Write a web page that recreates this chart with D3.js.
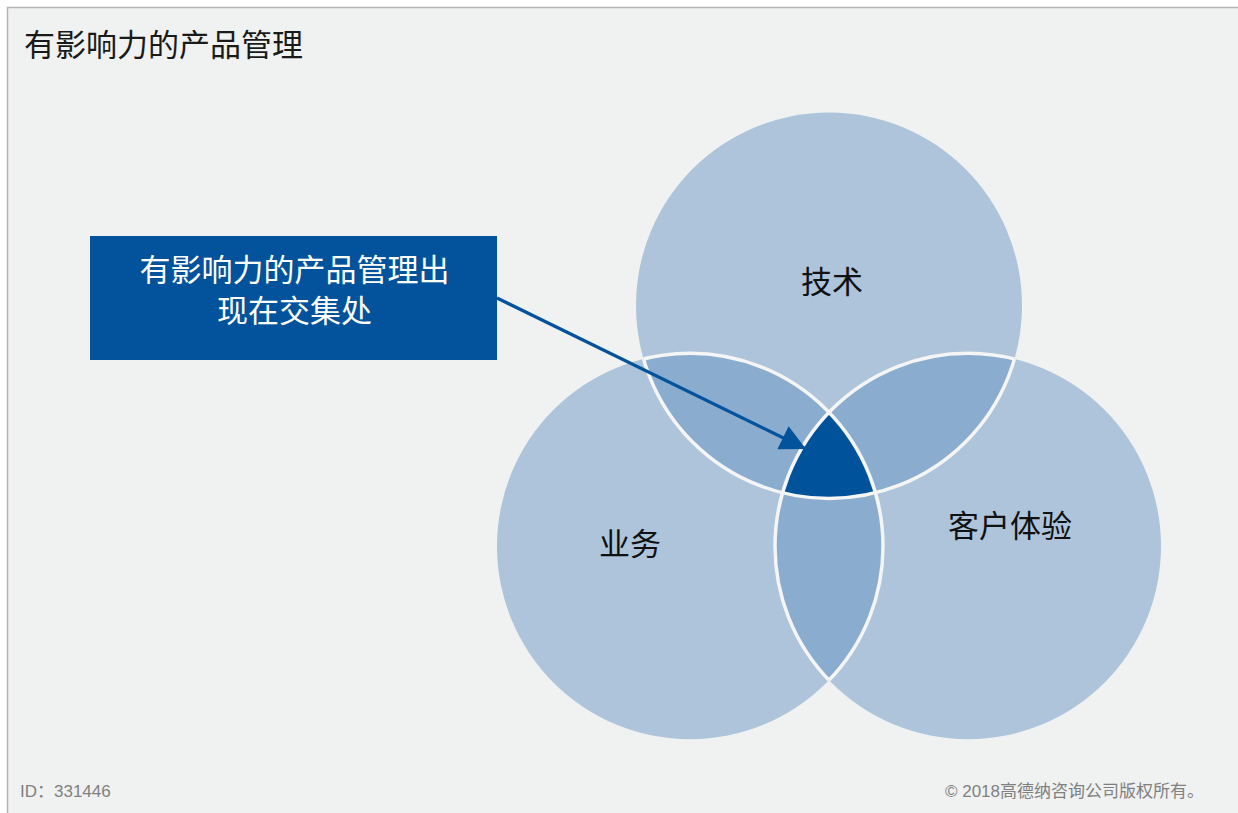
<!DOCTYPE html>
<html>
<head>
<meta charset="utf-8">
<title>有影响力的产品管理</title>
<script src="https://cdn.jsdelivr.net/npm/d3@7/dist/d3.min.js"></script>
<style>
  body { margin: 0; background: #fff; }
  svg text { font-family: "Noto Sans CJK SC", "Noto Sans", sans-serif; }
  svg text.foot { font-family: "Liberation Sans", "Noto Sans CJK SC", sans-serif; }
</style>
</head>
<body>
<div id="chart"></div>
<script>
// data
var title = "有影响力的产品管理";
var sets = ["技术", "业务", "客户体验"];
var calloutLines = ["有影响力的产品管理出", "现在交集处"];
var footId = "ID：331446";
var footCopy = "© 2018高德纳咨询公司版权所有。";

var W = 1238, H = 813;
var svg = d3.select("#chart").append("svg")
  .attr("width", W).attr("height", H);

// frame + background
svg.append("rect").attr("width", W).attr("height", H).attr("fill", "#fff");
svg.append("rect")
  .attr("x", 7.5).attr("y", 7.5).attr("width", W).attr("height", H)
  .attr("fill", "#f0f2f1").attr("stroke", "#b4b4b4").attr("stroke-width", 1.5);

svg.append("text").text(title)
  .attr("x", 24).attr("y", 56)
  .attr("font-size", 31).attr("fill", "#1a1a1a");

// venn layout: equal circles on an equilateral triangle
var r = 193, side = 278;
var cx0 = 829, cy0 = 466;
var dist = side / Math.sqrt(3);
var angles = [-90, 150, 30];
var circles = sets.map(function(s, i) {
  var a = angles[i] * Math.PI / 180;
  return { name: s, x: cx0 + dist * Math.cos(a), y: cy0 + dist * Math.sin(a) };
});

var defs = svg.append("defs");
circles.forEach(function(c, i) {
  defs.append("clipPath").attr("id", "c" + i)
    .append("circle").attr("cx", c.x).attr("cy", c.y).attr("r", r);
  // union of the other two circles
  var u = defs.append("clipPath").attr("id", "o" + i);
  circles.forEach(function(d, j) {
    if (j !== i) u.append("circle").attr("cx", d.x).attr("cy", d.y).attr("r", r);
  });
});

var light = "#adc4db", mid = "#8aacce", dark = "#00529b";

svg.append("g").selectAll("circle").data(circles).enter()
  .append("circle")
  .attr("cx", function(d) { return d.x; })
  .attr("cy", function(d) { return d.y; })
  .attr("r", r).attr("fill", light);

// pairwise lenses
var pairs = [[0, 1], [0, 2], [1, 2]];
pairs.forEach(function(p) {
  var c = circles[p[1]];
  svg.append("circle")
    .attr("clip-path", "url(#c" + p[0] + ")")
    .attr("cx", c.x).attr("cy", c.y).attr("r", r)
    .attr("fill", mid);
});

// triple intersection
var c2 = circles[2];
svg.append("g").attr("clip-path", "url(#c0)")
  .append("g").attr("clip-path", "url(#c1)")
  .append("circle").attr("cx", c2.x).attr("cy", c2.y).attr("r", r)
  .attr("fill", dark);

// white borders only inside the other circles
circles.forEach(function(c, i) {
  svg.append("circle")
    .attr("clip-path", "url(#o" + i + ")")
    .attr("cx", c.x).attr("cy", c.y).attr("r", r)
    .attr("fill", "none").attr("stroke", "#f4f5f4").attr("stroke-width", 3.5);
});

// labels
var labelOff = [[3, -23], [-60, -2], [42, -20]];
svg.append("g").selectAll("text").data(circles).enter()
  .append("text")
  .attr("x", function(d, i) { return d.x + labelOff[i][0]; })
  .attr("y", function(d, i) { return d.y + labelOff[i][1] + 11; })
  .attr("text-anchor", "middle")
  .attr("font-size", 31).attr("fill", "#111")
  .text(function(d) { return d.name; });

// callout box
var bx = 90, by = 236, bw = 407, bh = 124;
svg.append("rect").attr("x", bx).attr("y", by).attr("width", bw).attr("height", bh)
  .attr("fill", "#02539b");
svg.append("g").selectAll("text").data(calloutLines).enter()
  .append("text")
  .attr("x", bx + bw / 2 + 1)
  .attr("y", function(d, i) { return by + 45 + i * 41; })
  .attr("text-anchor", "middle")
  .attr("font-size", 31).attr("fill", "#fff")
  .text(function(d) { return d; });

// arrow
defs.append("marker").attr("id", "arr")
  .attr("viewBox", "0 0 10 10").attr("refX", 10).attr("refY", 5)
  .attr("markerWidth", 9).attr("markerHeight", 8)
  .attr("markerUnits", "strokeWidth").attr("orient", "auto")
  .append("path").attr("d", "M0,0 L10,5 L0,10 Z").attr("fill", "#02539b");
svg.append("line")
  .attr("x1", bx + bw).attr("y1", 298)
  .attr("x2", 806).attr("y2", 449)
  .attr("stroke", "#02539b").attr("stroke-width", 3.2)
  .attr("marker-end", "url(#arr)");

// footer
svg.append("text").attr("class", "foot").text(footId)
  .attr("x", 20).attr("y", 797)
  .attr("font-size", 17).attr("fill", "#808080");
svg.append("text").attr("class", "foot").text(footCopy)
  .attr("x", 1204).attr("y", 797).attr("text-anchor", "end")
  .attr("font-size", 17).attr("fill", "#808080");
</script>
</body>
</html>
